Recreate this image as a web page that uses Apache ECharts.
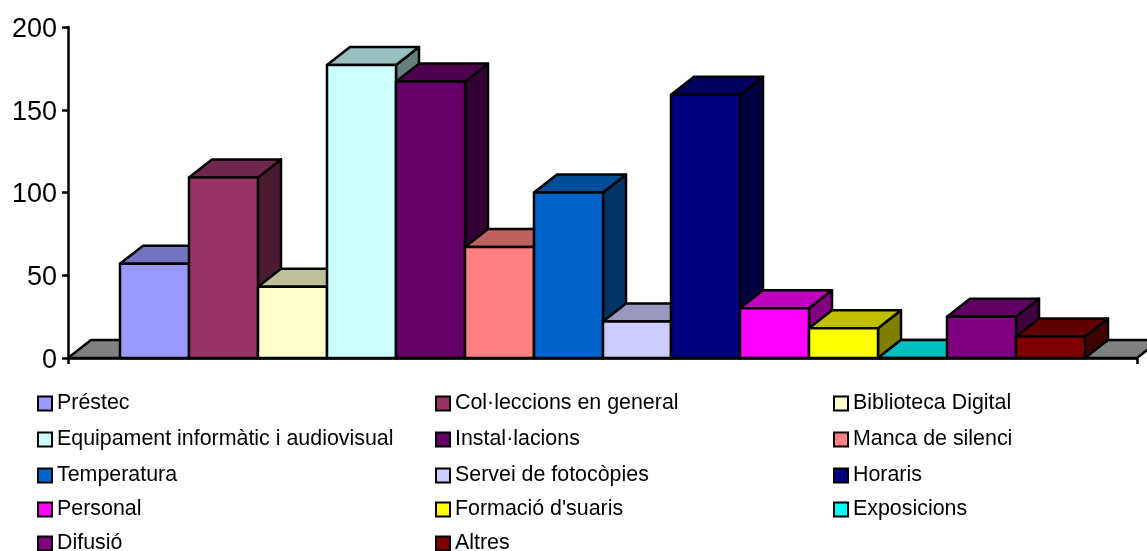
<!DOCTYPE html>
<html>
<head>
<meta charset="utf-8">
<style>html,body{margin:0;padding:0;background:#fff}#chart{width:1147px;height:551px}</style>
<script src="https://cdn.jsdelivr.net/npm/echarts@6/dist/echarts.min.js"></script>
</head>
<body>
<div id="chart"></div>
<script>
// Survey topics and the number of responses for each one
const topics = ['Préstec', 'Col·leccions en general', 'Biblioteca Digital',
  'Equipament informàtic i audiovisual', 'Instal·lacions', 'Manca de silenci',
  'Temperatura', 'Servei de fotocòpies', 'Horaris',
  'Personal', "Formació d'suaris", 'Exposicions',
  'Difusió', 'Altres'];
const responses = [57, 109, 43, 177, 167, 67, 100, 22, 159, 30, 18, 0, 25, 13];
const frontColors = ['#9999FF', '#993366', '#FFFFCC', '#CCFFFF', '#660066', '#FF8080',
  '#0066CC', '#CCCCFF', '#000080', '#FF00FF', '#FFFF00', '#00FFFF', '#800080', '#800000'];
const yTicks = { min: 0, max: 200, step: 50 };

// Extruded-bar geometry
const DEPTH_X = 23, DEPTH_Y = 18;
const GAP_IN_BARS = 1.5;
const EDGE = { stroke: '#000', lineWidth: 2.5, lineJoin: 'round' };

function shade(hex, f) {
  const n = parseInt(hex.slice(1), 16);
  const ch = s => Math.round(((n >> s) & 255) * f);
  return 'rgb(' + ch(16) + ',' + ch(8) + ',' + ch(0) + ')';
}

function box(x0, x1, yTop, yBase, color) {
  const top = [[x0, yTop], [x0 + DEPTH_X, yTop - DEPTH_Y], [x1 + DEPTH_X, yTop - DEPTH_Y], [x1, yTop]];
  const side = [[x1, yTop], [x1 + DEPTH_X, yTop - DEPTH_Y], [x1 + DEPTH_X, yBase - DEPTH_Y], [x1, yBase]];
  const front = [[x0, yTop], [x1, yTop], [x1, yBase], [x0, yBase]];
  return {
    type: 'group',
    children: [
      { type: 'polygon', shape: { points: side }, style: Object.assign({ fill: shade(color, 0.5) }, EDGE) },
      { type: 'polygon', shape: { points: top }, style: Object.assign({ fill: shade(color, 0.75) }, EDGE) },
      { type: 'polygon', shape: { points: front }, style: Object.assign({ fill: color }, EDGE) }
    ]
  };
}

// The grey floor the bars stand on
const floorSeries = {
  type: 'custom',
  silent: true,
  data: [[0, 0]],
  renderItem: function (params, api) {
    const band = api.size([1, 0])[0];
    const base = api.coord([0, 0]);
    const x0 = base[0] - band / 2, x1 = base[0] + band / 2, y = base[1];
    return {
      type: 'polygon',
      shape: { points: [[x0, y], [x0 + DEPTH_X, y - DEPTH_Y], [x1 + DEPTH_X, y - DEPTH_Y], [x1, y]] },
      style: Object.assign({ fill: '#808080' }, EDGE)
    };
  }
};

const barSeries = topics.map(function (name, i) {
  return {
    name: name,
    type: 'custom',
    itemStyle: { color: frontColors[i] },
    data: [[0, responses[i]]],
    renderItem: function (params, api) {
      const band = api.size([1, 0])[0];
      const barW = band / (topics.length + GAP_IN_BARS);
      const top = api.coord([0, api.value(1)]);
      const base = api.coord([0, 0]);
      const x0 = Math.round(top[0] + (i - topics.length / 2) * barW);
      const x1 = Math.round(top[0] + (i + 1 - topics.length / 2) * barW);
      return box(x0, x1, top[1], base[1], frontColors[i]);
    }
  };
});

// One legend entry per topic, placed on a three-column grid
const legendLeft = [37, 435, 833];
const legendTop = [393, 429, 465, 499, 533];

const chart = echarts.init(document.getElementById('chart'), null, { renderer: 'canvas' });
chart.setOption({
  animation: false,
  backgroundColor: '#fff',
  grid: { left: 68, right: 10, top: 27, bottom: 193, containLabel: false },
  xAxis: {
    type: 'category',
    data: [''],
    boundaryGap: true,
    axisLine: { lineStyle: { color: '#000', width: 2.5 } },
    axisTick: { show: true, length: 6, lineStyle: { color: '#000', width: 2.5 } },
    axisLabel: { show: false },
    splitLine: { show: false }
  },
  yAxis: {
    type: 'value',
    min: yTicks.min,
    max: yTicks.max,
    interval: yTicks.step,
    axisLine: { show: true, lineStyle: { color: '#000', width: 2.5 } },
    axisTick: { show: true, length: 6, lineStyle: { color: '#000', width: 2.5 } },
    axisLabel: {
      margin: 11,
      formatter: '{v|{value}}',
      rich: { v: { color: '#000', fontFamily: 'Liberation Sans', fontSize: 27, padding: [5, 0, 0, 0] } }
    },
    splitLine: { show: false }
  },
  legend: topics.map(function (name, i) {
    return {
      orient: 'horizontal',
      left: legendLeft[i % 3],
      top: legendTop[Math.floor(i / 3)],
      padding: 0,
      itemWidth: 14,
      itemHeight: 14,
      icon: 'rect',
      selectedMode: false,
      data: [name],
      itemStyle: { borderColor: '#000', borderWidth: 2 },
      textStyle: { color: '#000', fontFamily: 'Liberation Sans', fontSize: 21.4 }
    };
  }),
  series: [floorSeries].concat(barSeries)
});
</script>
</body>
</html>
